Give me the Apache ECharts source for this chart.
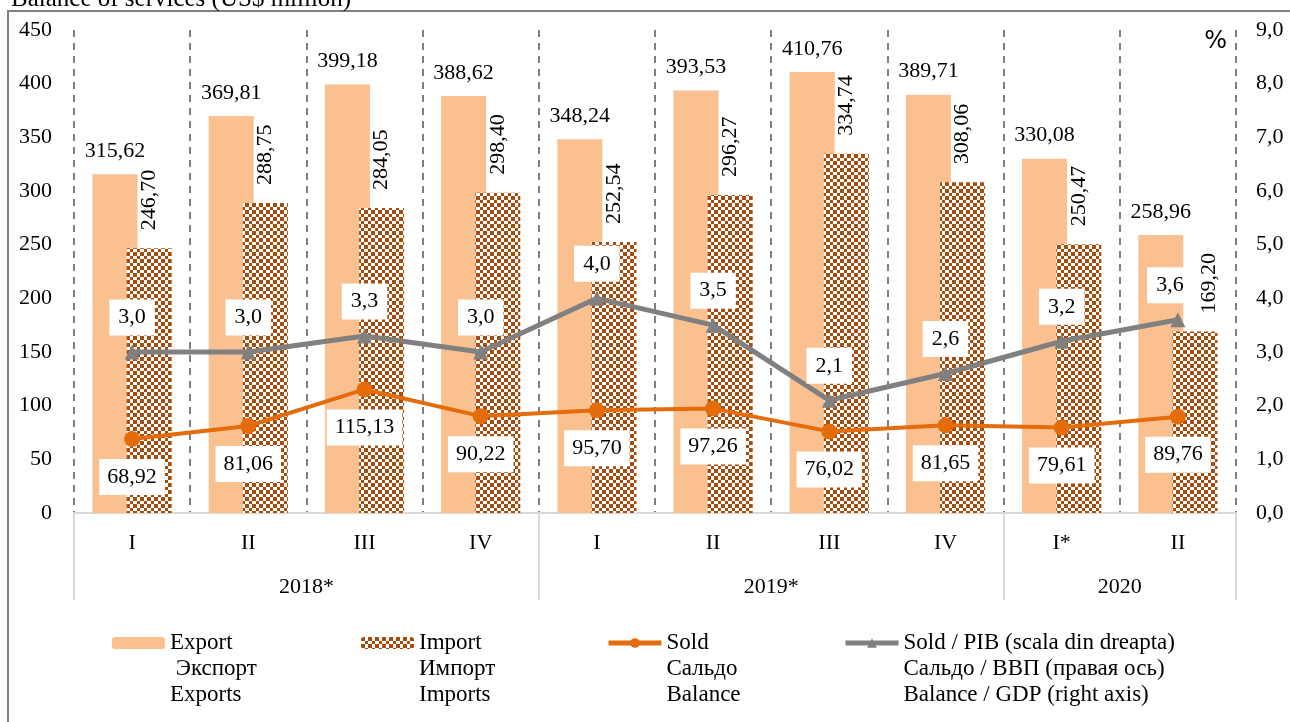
<!DOCTYPE html>
<html>
<head>
<meta charset="utf-8">
<script src="https://cdn.jsdelivr.net/npm/echarts@6/dist/echarts.min.js"></script>
<style>
  html, body { margin: 0; padding: 0; background: #fff; }
  #chart { width: 1290px; height: 722px; }
</style>
</head>
<body>
<div id="chart"></div>
<script>
// data
const quarters = ['I', 'II', 'III', 'IV', 'I', 'II', 'III', 'IV', 'I*', 'II']
const years = ['2018*', '2019*', '2020']
const yearSpans = [4, 4, 2]
const exportsData = [315.62, 369.81, 399.18, 388.62, 348.24, 393.53, 410.76, 389.71, 330.08, 258.96]
const importsData = [246.70, 288.75, 284.05, 298.40, 252.54, 296.27, 334.74, 308.06, 250.47, 169.20]
const balanceData = [68.92, 81.06, 115.13, 90.22, 95.70, 97.26, 76.02, 81.65, 79.61, 89.76]
const balanceGdpData = [3.0, 3.0, 3.3, 3.0, 4.0, 3.5, 2.1, 2.6, 3.2, 3.6]
const leftTicks = { min: 0, max: 450, interval: 50 }
const rightTicks = { min: 0, max: 9, interval: 1 }
const legendText = {
  'Export': ['Export', ' Экспорт', 'Exports'],
  'Import': ['Import', 'Импорт', 'Imports'],
  'Sold': ['Sold', 'Сальдо', 'Balance'],
  'Sold / PIB': ['Sold / PIB (scala din dreapta)', 'Сальдо / ВВП (правая ось)', 'Balance / GDP (right axis)']
}

const FONT = '"Liberation Serif", "DejaVu Serif", serif'
const comma = (v, d) => v.toFixed(d).replace('.', ',')

// year band boundaries and centres on a 0..10 value axis
const yearBounds = [0]
yearSpans.forEach(s => yearBounds.push(yearBounds[yearBounds.length - 1] + s))
const yearCenters = yearSpans.map((s, i) => yearBounds[i] + s / 2)

// checkered fill for imports (cells of 4 and 3 px, about 3.5 on average)
const pat = document.createElement('canvas')
pat.width = 14
pat.height = 14
const pctx = pat.getContext('2d')
pctx.fillStyle = '#ffffff'
pctx.fillRect(0, 0, 14, 14)
pctx.fillStyle = '#A64D0D'
const cells = [[0, 4], [4, 3], [7, 4], [11, 3]]
cells.forEach((cx, i) => cells.forEach((cy, j) => {
  if ((i + j) % 2 === 0) pctx.fillRect(cx[0], cy[0], cx[1], cy[1])
}))

const chart = echarts.init(document.getElementById('chart'))

// two blank lines in front keep the icon level with the first text line
const legendBase = {
  top: 578,
  padding: 0,
  itemWidth: 53,
  itemHeight: 12,
  selectedMode: false,
  formatter: name => '{t|}\n{t|}\n' + legendText[name].map(s => '{t|' + s + '}').join('\n'),
  textStyle: {
    fontFamily: FONT, fontSize: 23, color: '#000', lineHeight: 26,
    rich: { t: { fontFamily: FONT, fontSize: 23, color: '#000', lineHeight: 26 } }
  }
}

// the last pair of labels is nudged apart, as in the source
const importItems = importsData.map((v, i) => i === 9 ? { value: v, label: { offset: [0, 14] } } : v)
const gdpItems = balanceGdpData.map((v, i) => i === 9 ? { value: v, label: { offset: [-8, 0] } } : v)

const option = {
  animation: false,
  backgroundColor: '#fff',
  textStyle: { fontFamily: FONT },
  title: {
    text: 'Balance of services (US$ million)',
    left: 6,
    top: -18,
    textStyle: { fontFamily: FONT, fontSize: 25, fontWeight: 'normal', color: '#000' }
  },
  graphic: [{
    type: 'rect',
    shape: { x: 8, y: 11, width: 1400, height: 800 },
    style: { fill: null, stroke: '#808080', lineWidth: 2 },
    silent: true
  }],
  legend: [
    Object.assign({ left: 112, data: ['Export'] }, legendBase),
    Object.assign({ left: 361, data: ['Import'] }, legendBase),
    Object.assign({ left: 606, data: ['Sold'], lineStyle: { width: 5 } }, legendBase),
    Object.assign({ left: 843, data: ['Sold / PIB'], lineStyle: { width: 5 } }, legendBase)
  ],
  grid: { left: 74, right: 54, top: 30, bottom: 209 },
  xAxis: [
    {
      type: 'category',
      data: quarters,
      axisLine: { lineStyle: { color: '#D9D9D9', width: 2 } },
      axisTick: { show: false },
      axisLabel: { margin: 19, fontFamily: FONT, fontSize: 22, color: '#000' },
      splitLine: { show: true, interval: 0, lineStyle: { color: '#808080', width: 2, type: [7, 6] } }
    },
    {
      type: 'value',
      position: 'bottom',
      offset: 0,
      min: 0,
      max: yearBounds[yearBounds.length - 1],
      axisLine: { show: false },
      splitLine: { show: false },
      axisTick: { show: true, customValues: yearBounds, length: 87, lineStyle: { color: '#D9D9D9', width: 2 } },
      axisLabel: {
        customValues: yearCenters,
        margin: 63,
        fontFamily: FONT, fontSize: 22, color: '#000',
        formatter: v => years[yearCenters.indexOf(v)]
      }
    }
  ],
  yAxis: [
    {
      type: 'value',
      min: leftTicks.min, max: leftTicks.max, interval: leftTicks.interval,
      axisLine: { show: false },
      axisTick: { show: false },
      splitLine: { show: false },
      axisLabel: { margin: 22, fontFamily: FONT, fontSize: 22, color: '#000' }
    },
    {
      type: 'value',
      min: rightTicks.min, max: rightTicks.max, interval: rightTicks.interval,
      name: '%',
      nameLocation: 'end',
      nameGap: -24,
      nameTextStyle: { fontFamily: 'DejaVu Sans', fontSize: 24, color: '#000', align: 'right', padding: [0, 9, 0, 0] },
      axisLine: { show: false },
      axisTick: { show: false },
      splitLine: { show: false },
      axisLabel: { margin: 20, fontFamily: FONT, fontSize: 22, color: '#000', formatter: v => comma(v, 1) }
    }
  ],
  series: [
    {
      name: 'Export',
      type: 'bar',
      data: exportsData,
      barWidth: 45,
      barGap: '-24%',
      itemStyle: { color: '#FAC090' },
      label: {
        show: true, position: 'top', distance: 12,
        fontFamily: FONT, fontSize: 22, color: '#000',
        formatter: p => comma(p.value, 2)
      }
    },
    {
      name: 'Import',
      type: 'bar',
      data: importItems,
      barWidth: 45,
      itemStyle: { color: { image: pat, repeat: 'repeat' } },
      label: {
        show: true, position: 'top', distance: 18, rotate: 90,
        align: 'left', verticalAlign: 'middle',
        fontFamily: FONT, fontSize: 22, color: '#000',
        formatter: p => comma(p.value, 2)
      }
    },
    {
      name: 'Sold',
      type: 'line',
      yAxisIndex: 0,
      data: balanceData,
      symbol: 'circle',
      symbolSize: 16,
      lineStyle: { color: '#E46C0A', width: 4 },
      itemStyle: { color: '#E46C0A' },
      label: {
        show: true, position: 'bottom', distance: 12,
        backgroundColor: '#fff', padding: [7, 8],
        fontFamily: FONT, fontSize: 22, color: '#000',
        formatter: p => comma(p.value, 2)
      },
      z: 5
    },
    {
      name: 'Sold / PIB',
      type: 'line',
      yAxisIndex: 1,
      data: gdpItems,
      symbol: 'triangle',
      symbolSize: 15,
      lineStyle: { color: '#808080', width: 5 },
      itemStyle: { color: '#808080' },
      label: {
        show: true, position: 'top', distance: 9,
        backgroundColor: '#fff', padding: [7, 9],
        fontFamily: FONT, fontSize: 22, color: '#000',
        formatter: p => comma(p.value, 1)
      },
      z: 5
    }
  ]
}

chart.setOption(option)
</script>
</body>
</html>
